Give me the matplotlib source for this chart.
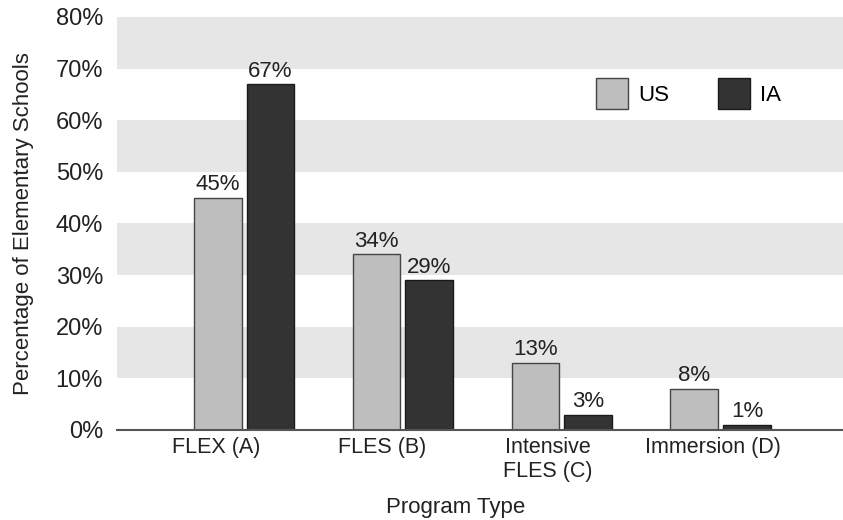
import matplotlib
matplotlib.use("Agg")
import matplotlib.pyplot as plt
import numpy as np
from matplotlib.patches import Patch

plt.rcParams['font.family'] = ['Liberation Sans', 'DejaVu Sans']

categories = ["FLEX (A)", "FLES (B)", "Intensive\nFLES (C)", "Immersion (D)"]
us_values = [45, 34, 13, 8]
ia_values = [67, 29, 3, 1]
y_ticks = [0, 10, 20, 30, 40, 50, 60, 70, 80]

fig = plt.figure(figsize=(8.43, 5.2), dpi=100)
ax = fig.add_axes([117/843, 1 - 430/520, 1 - 117/843, (430 - 17)/520])

# alternating horizontal bands
for lo in (10, 30, 50, 70):
    ax.axhspan(lo, lo + 10, color="#e6e6e6", zorder=0, lw=0)

x = np.arange(len(categories))
w = 0.30
gap = 0.016
ax.bar(x - w/2 - gap, us_values, width=w, color="#bebebe", edgecolor="#444444", linewidth=1, zorder=2)
ax.bar(x + w/2 + gap, ia_values, width=w, color="#333333", edgecolor="#1a1a1a", linewidth=1, zorder=2)

for xi, v in zip(x, us_values):
    ax.text(xi - w/2 - gap, v + 0.5, f"{v}%", ha="center", va="bottom", fontsize=16, color="#222222")
for xi, v in zip(x, ia_values):
    ax.text(xi + w/2 + gap, v + 0.5, f"{v}%", ha="center", va="bottom", fontsize=16, color="#222222")

ax.set_ylim(0, 80)
ax.set_xlim(-0.80, 3.77)
ax.set_yticks(y_ticks)
ax.set_yticklabels([f"{t}%" for t in y_ticks], fontsize=17, color="#222222")

# category labels sit on a slightly tighter, left-shifted grid than the bars
label_pos = x * 1.043 - 0.176
ax.set_xticks(label_pos)
ax.set_xticklabels(categories, fontsize=15.5, color="#222222")
ax.tick_params(axis="both", length=0)
ax.tick_params(axis="y", pad=10)
ax.tick_params(axis="x", pad=5)

for s in ("top", "right", "left"):
    ax.spines[s].set_visible(False)
ax.spines["bottom"].set_color("#555555")
ax.spines["bottom"].set_linewidth(1.5)
ax.spines["bottom"].set_zorder(3)

ax.set_ylabel("Percentage of Elementary Schools", fontsize=16, color="#222222")
ax.yaxis.set_label_coords(-0.115, 0.5)
ax.set_xlabel("Program Type", fontsize=16, color="#222222")
ax.xaxis.set_label_coords(0.466, -0.163)

handles = [Patch(facecolor="#bebebe", edgecolor="#444444", label="US"),
           Patch(facecolor="#333333", edgecolor="#1a1a1a", label="IA")]
ax.legend(handles=handles, ncol=2, frameon=False, fontsize=16,
          loc="center", bbox_to_anchor=(0.787, 0.815),
          handlelength=1.45, handleheight=1.75, handletextpad=0.45, columnspacing=2.2)

fig.savefig("out.png", dpi=100)
